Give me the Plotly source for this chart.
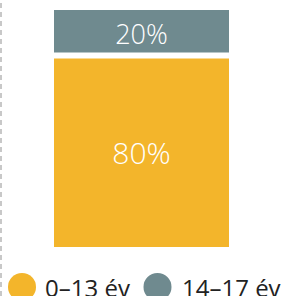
import plotly.graph_objects as go

categories = ["0–13 év", "14–17 év"]
values = [80, 20]
labels = ["80%", "20%"]
colors = ["#F3B52B", "#6F8A8F"]
label_sizes = [30, 27]

fig = go.Figure()
for cat, v, lab, c, s in zip(categories, values, labels, colors, label_sizes):
    fig.add_trace(go.Bar(
        x=[0], y=[v], name=cat, width=1,
        marker=dict(color=c, line=dict(width=0)),
        text=[lab], textposition="inside", insidetextanchor="middle",
        textfont=dict(color="white", size=s, family="Open Sans", weight=300),
        hoverinfo="skip",
    ))

# white separator just above the boundary between the segments
fig.add_shape(type="rect", xref="x", yref="y", x0=-0.5, x1=0.5,
              ysizemode="pixel", yanchor=values[0], y0=-1, y1=5,
              fillcolor="white", line=dict(width=0), layer="above")

# dashed vertical line at left
fig.add_shape(type="line", xref="paper", yref="paper", x0=1/282, x1=1/282,
              y0=0, y1=1, line=dict(color="#C8C8C8", width=2, dash="5px,4px"))

# legend (drawn manually to get large circles)
leg_y = (296 - 287) / 296
circle_x = [22, 157.5]
text_x = [43, 180]
for cat, c, cx, tx in zip(categories, colors, circle_x, text_x):
    fig.add_shape(type="circle", xref="paper", yref="paper",
                  xsizemode="pixel", ysizemode="pixel",
                  xanchor=cx / 282, yanchor=leg_y,
                  x0=-14, x1=14, y0=-14, y1=14,
                  fillcolor=c, line=dict(width=0))
    fig.add_annotation(xref="paper", yref="paper", x=tx / 282, y=leg_y,
                       xanchor="left", yanchor="middle", text=cat,
                       showarrow=False,
                       font=dict(size=24, color="#222222", family="Open Sans"))

fig.update_layout(
    width=282, height=296, margin=dict(l=0, r=0, t=0, b=0),
    barmode="stack", showlegend=False,
    plot_bgcolor="white", paper_bgcolor="white",
    xaxis=dict(range=[-0.8086, 0.8029], visible=False, fixedrange=True),
    yaxis=dict(range=[-20.85, 104.36], visible=False, fixedrange=True),
    uniformtext=dict(mode=False),
)

fig.write_html("out.html", config={"displayModeBar": False},
               post_script="document.body.style.margin='0';document.body.style.overflow='hidden';")
